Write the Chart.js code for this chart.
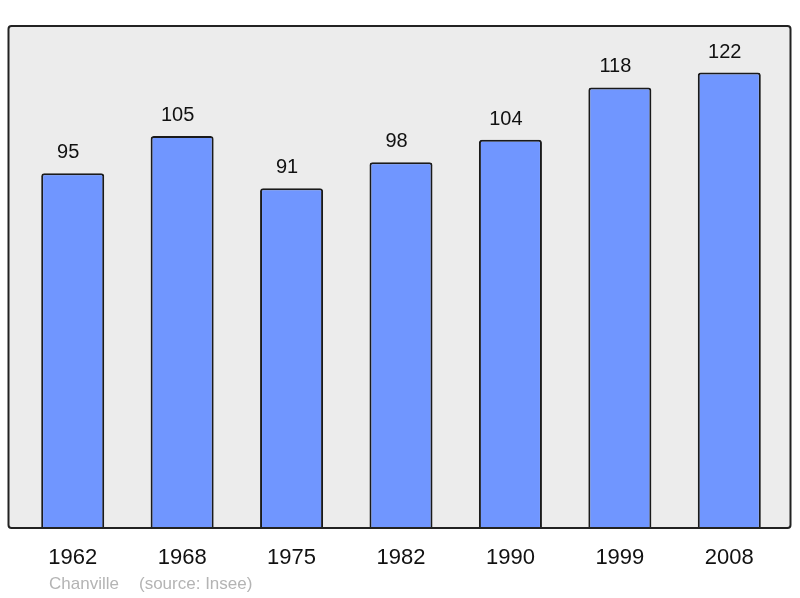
<!DOCTYPE html>
<html>
<head>
<meta charset="utf-8">
<script src="https://cdn.jsdelivr.net/npm/chart.js@4"></script>
<style>
html,body{margin:0;padding:0;background:#fff;}
#wrap{width:800px;height:598px;}
</style>
</head>
<body>
<div id="wrap"><canvas id="c" width="800" height="598"></canvas></div>
<script>
const years = ["1962","1968","1975","1982","1990","1999","2008"];
const population = [95,105,91,98,104,118,122];
const town = "Chanville";
const source = "(source: Insee)";

const boxPlugin = {
  id: 'box',
  beforeDraw(chart) {
    const {ctx, chartArea: a} = chart;
    const l = a.left - 9.5, r = a.right + 6.5, t = a.top - 1, b = a.bottom;
    ctx.save();
    ctx.beginPath();
    ctx.roundRect(l, t, r - l, b - t, 3);
    ctx.fillStyle = '#ececec';
    ctx.fill();
    ctx.restore();
  },
  afterDatasetsDraw(chart) {
    const {ctx, chartArea: a} = chart;
    const l = a.left - 9.5, r = a.right + 6.5, t = a.top - 1, b = a.bottom;
    ctx.save();
    ctx.beginPath();
    ctx.roundRect(l, t, r - l, b - t, 3);
    ctx.lineWidth = 2;
    ctx.strokeStyle = '#222';
    ctx.stroke();
    // value labels
    const meta = chart.getDatasetMeta(0);
    ctx.font = '20px "Liberation Sans", Arial, sans-serif';
    ctx.fillStyle = '#111';
    ctx.textAlign = 'center';
    ctx.textBaseline = 'middle';
    meta.data.forEach((bar, i) => {
      ctx.fillText(String(population[i]), bar.x - 4.5, bar.y - 20.5);
    });
    // footer
    ctx.font = '17px "Liberation Sans", Arial, sans-serif';
    ctx.fillStyle = '#b4b4b4';
    ctx.textAlign = 'left';
    ctx.fillText(town, 49, 584);
    ctx.fillText(source, 139, 584);
    ctx.restore();
  }
};

new Chart(document.getElementById('c'), {
  type: 'bar',
  data: {
    labels: years,
    datasets: [{
      data: population,
      backgroundColor: '#7096ff',
      borderColor: '#1a1a1a',
      borderWidth: 2,
      borderRadius: 3,
      borderSkipped: 'bottom',
      barPercentage: 0.576,
      categoryPercentage: 1.0
    }]
  },
  options: {
    responsive: false,
    animation: false,
    devicePixelRatio: 1,
    layout: { padding: { left: 18, right: 16, top: 27, bottom: 9.6 } },
    plugins: { legend: { display: false }, tooltip: { enabled: false } },
    scales: {
      x: {
        grid: { display: false, drawTicks: false },
        border: { display: false },
        ticks: {
          padding: 17,
          color: '#111',
          font: { family: '"Liberation Sans", Arial, sans-serif', size: 22 }
        }
      },
      y: {
        display: false,
        min: 0,
        max: 134.2
      }
    }
  },
  plugins: [boxPlugin]
});
</script>
</body>
</html>
